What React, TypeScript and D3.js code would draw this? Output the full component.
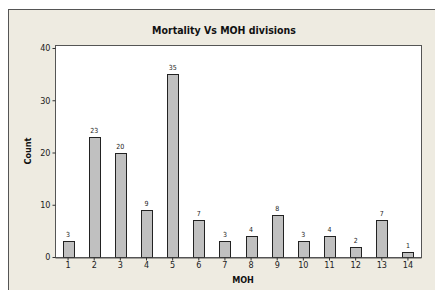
import React, { useEffect, useRef } from "react";
import * as d3 from "d3";

const categories = ["1", "2", "3", "4", "5", "6", "7", "8", "9", "10", "11", "12", "13", "14"];
const counts = [3, 23, 20, 9, 35, 7, 3, 4, 8, 3, 4, 2, 7, 1];
const yTicks = [0, 10, 20, 30, 40];

const W = 435;
const H = 290;
const font = "Tahoma, 'DejaVu Sans Condensed', 'DejaVu Sans', sans-serif";

export default function App() {
  const ref = useRef<SVGSVGElement>(null);

  useEffect(() => {
    const svg = d3.select(ref.current);
    svg.selectAll("*").remove();

    // outer frame (Minitab style)
    svg
      .append("rect")
      .attr("x", 8.5)
      .attr("y", 9.5)
      .attr("width", W + 20)
      .attr("height", H + 20)
      .attr("fill", "#eeebe1")
      .attr("stroke", "#555")
      .attr("stroke-width", 1);

    const left = 55;
    const right = 421;
    const top = 45;
    const bottom = 257;

    const x = d3.scaleBand().domain(categories).range([left, right]).paddingInner(0.58).paddingOuter(0.29);
    const y = d3.scaleLinear().domain([0, 40]).range([bottom, 48]);

    svg
      .append("rect")
      .attr("x", left + 0.5)
      .attr("y", top + 0.5)
      .attr("width", right - left)
      .attr("height", bottom - top)
      .attr("fill", "#fff")
      .attr("stroke", "#555");

    // bars
    svg
      .selectAll("rect.bar")
      .data(counts)
      .enter()
      .append("rect")
      .attr("class", "bar")
      .attr("x", (_, i) => Math.round(x(categories[i])!) + 0.5)
      .attr("y", (d) => Math.round(y(d)) + 0.5)
      .attr("width", Math.round(x.bandwidth()))
      .attr("height", (d) => bottom - Math.round(y(d)))
      .attr("fill", "#c0c0c0")
      .attr("stroke", "#222")
      .attr("stroke-width", 1);

    // value labels
    svg
      .selectAll("text.val")
      .data(counts)
      .enter()
      .append("text")
      .attr("class", "val")
      .attr("x", (_, i) => x(categories[i])! + x.bandwidth() / 2)
      .attr("y", (d) => y(d) - 4)
      .attr("text-anchor", "middle")
      .attr("font-family", font)
      .attr("font-size", 7)
      .attr("fill", "#222")
      .text((d) => d);

    // x axis
    const xAxis = svg.append("g").attr("transform", `translate(0,${bottom + 0.5})`);
    xAxis
      .call(d3.axisBottom(x).tickSize(3).tickSizeOuter(0))
      .call((g) => g.select(".domain").attr("stroke", "#555"))
      .call((g) => g.selectAll(".tick line").attr("stroke", "#333"))
      .call((g) =>
        g
          .selectAll(".tick text")
          .attr("font-family", font)
          .attr("font-size", 9)
          .attr("fill", "#222")
          .attr("dy", "0.9em")
          .attr("y", 2)
      );

    // y axis
    const yAxis = svg.append("g").attr("transform", `translate(${left + 0.5},0)`);
    yAxis
      .call(d3.axisLeft(y).tickValues(yTicks).tickSize(3).tickSizeOuter(0))
      .call((g) => g.select(".domain").remove())
      .call((g) => g.selectAll(".tick line").attr("stroke", "#333"))
      .call((g) =>
        g
          .selectAll(".tick text")
          .attr("font-family", font)
          .attr("font-size", 9)
          .attr("fill", "#222")
          .attr("x", -5)
      );

    // title & axis labels
    svg
      .append("text")
      .attr("x", 224)
      .attr("y", 34)
      .attr("text-anchor", "middle")
      .attr("font-family", font)
      .attr("font-weight", "bold")
      .attr("font-size", 10.5)
      .attr("fill", "#111")
      .text("Mortality Vs MOH divisions");

    svg
      .append("text")
      .attr("transform", `translate(31,151) rotate(-90)`)
      .attr("text-anchor", "middle")
      .attr("font-family", font)
      .attr("font-weight", "bold")
      .attr("font-size", 9)
      .attr("fill", "#111")
      .text("Count");

    svg
      .append("text")
      .attr("x", 243)
      .attr("y", 283)
      .attr("text-anchor", "middle")
      .attr("font-family", font)
      .attr("font-weight", "bold")
      .attr("font-size", 9)
      .attr("fill", "#111")
      .text("MOH");
  }, []);

  return (
    <svg
      ref={ref}
      width={W}
      height={H}
      style={{ position: "absolute", left: 0, top: 0, background: "#fff" }}
    />
  );
}
